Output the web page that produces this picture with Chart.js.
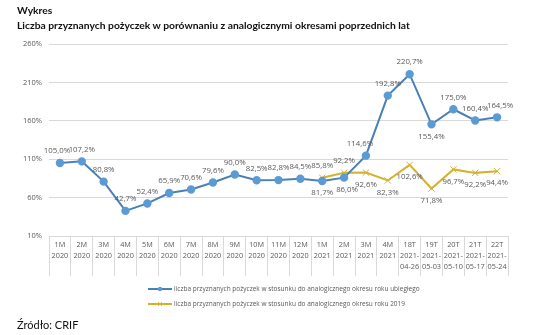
<!DOCTYPE html>
<html>
<head>
<meta charset="utf-8">
<script src="https://cdn.jsdelivr.net/npm/chart.js@4"></script>
<style>
  body { margin: 0; background: #fff; }
  #wrap { position: relative; width: 536px; height: 335px; }
  .txt { position: absolute; left: 17px; font-family: Lato, sans-serif; color: #111; white-space: nowrap; line-height: 1.2; }
  #t1 { top: 4px; font-size: 10.3px; font-weight: bold; }
  #t2 { top: 19px; font-size: 10.3px; font-weight: bold; }
  #src { top: 318px; font-size: 11px; }
</style>
</head>
<body>
<div id="wrap">
  <canvas id="wykres" width="536" height="335"></canvas>
  <div class="txt" id="t1">Wykres</div>
  <div class="txt" id="t2">Liczba przyznanych pożyczek w porównaniu z analogicznymi okresami poprzednich lat</div>
  <div class="txt" id="src">Źródło: CRIF</div>
</div>
<script>
const okresy = [
  ["1M", "2020"], ["2M", "2020"], ["3M", "2020"], ["4M", "2020"], ["5M", "2020"], ["6M", "2020"],
  ["7M", "2020"], ["8M", "2020"], ["9M", "2020"], ["10M", "2020"], ["11M", "2020"], ["12M", "2020"],
  ["1M", "2021"], ["2M", "2021"], ["3M", "2021"], ["4M", "2021"],
  ["18T", "2021-", "04-26"], ["19T", "2021-", "05-03"], ["20T", "2021-", "05-10"],
  ["21T", "2021-", "05-17"], ["22T", "2021-", "05-24"]
];
const rokUbiegly = [105.0, 107.2, 80.8, 42.7, 52.4, 65.9, 70.6, 79.6, 90.0, 82.5, 82.8, 84.5,
  81.7, 86.0, 114.6, 192.8, 220.7, 155.4, 175.0, 160.4, 164.5];
const rok2019 = [null, null, null, null, null, null, null, null, null, null, null, null,
  85.8, 92.2, 92.6, 82.3, 102.6, 71.8, 96.7, 92.2, 94.4];
// gdzie etykieta: 1 = nad punktem, -1 = pod punktem
const pozUbiegly = [1, 1, 1, 1, 1, 1, 1, 1, 1, 1, 1, 1, -1, -1, 1, 1, 1, -1, 1, 1, 1];
const poz2019 = [0, 0, 0, 0, 0, 0, 0, 0, 0, 0, 0, 0, 1, 1, -1, -1, -1, -1, -1, -1, -1];

const fmt = v => v.toFixed(1).replace(".", ",") + "%";

const etykiety = {
  id: "etykiety",
  afterDatasetsDraw(chart) {
    const ctx = chart.ctx;
    ctx.save();
    ctx.font = "7.8px 'Open Sans', sans-serif";
    ctx.fillStyle = "#595959";
    ctx.textAlign = "center";
    ctx.textBaseline = "middle";
    [pozUbiegly, poz2019].forEach((poz, d) => {
      const meta = chart.getDatasetMeta(d);
      meta.data.forEach((pt, i) => {
        const v = chart.data.datasets[d].data[i];
        if (v == null || !poz[i]) return;
        let dx = 0;
        if (d === 0 && i === 0) dx = -3;
        if (d === 0 && i === 14) dx = -6;
        if (d === 0 && i === 13) dx = 3;
        if (d === 0 && i === 20) dx = 3;
        ctx.fillText(fmt(v), pt.x + dx, pt.y - poz[i] * 12);
      });
    });
    ctx.restore();
  }
};

const legenda = {
  id: "legenda",
  afterDraw(chart) {
    const ctx = chart.ctx;
    ctx.save();
    ctx.font = "6.5px 'Open Sans', sans-serif";
    ctx.textBaseline = "middle";
    chart.data.datasets.forEach((ds, i) => {
      const y = 289 + i * 15;
      ctx.strokeStyle = ds.borderColor;
      ctx.lineWidth = 2;
      ctx.beginPath();
      ctx.moveTo(148, y);
      ctx.lineTo(172, y);
      ctx.stroke();
      if (i === 0) {
        ctx.fillStyle = ds.pointBackgroundColor;
        ctx.beginPath();
        ctx.arc(160, y, 2.2, 0, Math.PI * 2);
        ctx.fill();
      } else {
        ctx.lineWidth = 1;
        ctx.beginPath();
        ctx.moveTo(158, y - 2); ctx.lineTo(162, y + 2);
        ctx.moveTo(158, y + 2); ctx.lineTo(162, y - 2);
        ctx.stroke();
      }
      ctx.fillStyle = "#595959";
      ctx.fillText(ds.label, 174, y);
    });
    ctx.restore();
  }
};

new Chart(document.getElementById("wykres").getContext("2d"), {
  type: "line",
  data: {
    labels: okresy,
    datasets: [{
      label: "liczba przyznanych pożyczek w stosunku do analogicznego okresu roku ubiegłego",
      data: rokUbiegly,
      borderColor: "#4a80b8",
      backgroundColor: "#5b9bd5",
      pointBackgroundColor: "#5b9bd5",
      pointBorderColor: "#5b9bd5",
      pointRadius: 3.2,
      borderWidth: 2,
      tension: 0
    }, {
      label: "liczba przyznanych pożyczek w stosunku do analogicznego okresu roku 2019",
      data: rok2019,
      borderColor: "#d4b12f",
      backgroundColor: "#d4b12f",
      pointStyle: "crossRot",
      pointBorderColor: "#d4b12f",
      pointBorderWidth: 1,
      pointRadius: 4.5,
      borderWidth: 2,
      tension: 0
    }]
  },
  options: {
    responsive: false,
    animation: false,
    layout: { padding: { left: 0, right: 28, top: 44, bottom: 59 } },
    plugins: {
      legend: { display: false },
      tooltip: { enabled: false }
    },
    scales: {
      x: {
        offset: true,
        border: { display: true, color: "#d9d9d9" },
        grid: {
          offset: true,
          drawOnChartArea: false,
          drawTicks: true,
          tickLength: 40,
          color: "#d9d9d9"
        },
        ticks: {
          padding: -37,
          maxRotation: 0,
          autoSkip: false,
          color: "#595959",
          font: { family: "'Open Sans', sans-serif", size: 7.3, lineHeight: 1.55 }
        },
        afterFit(scale) { scale.height = 40; }
      },
      y: {
        min: 10,
        max: 260,
        border: { display: false },
        grid: { color: "#d9d9d9", drawTicks: false },
        ticks: {
          stepSize: 50,
          padding: 7,
          color: "#595959",
          font: { family: "'Open Sans', sans-serif", size: 7.5 },
          callback: v => v + "%"
        },
        afterFit(scale) { scale.width = 49; }
      }
    }
  },
  plugins: [etykiety, legenda]
});
</script>
</body>
</html>
